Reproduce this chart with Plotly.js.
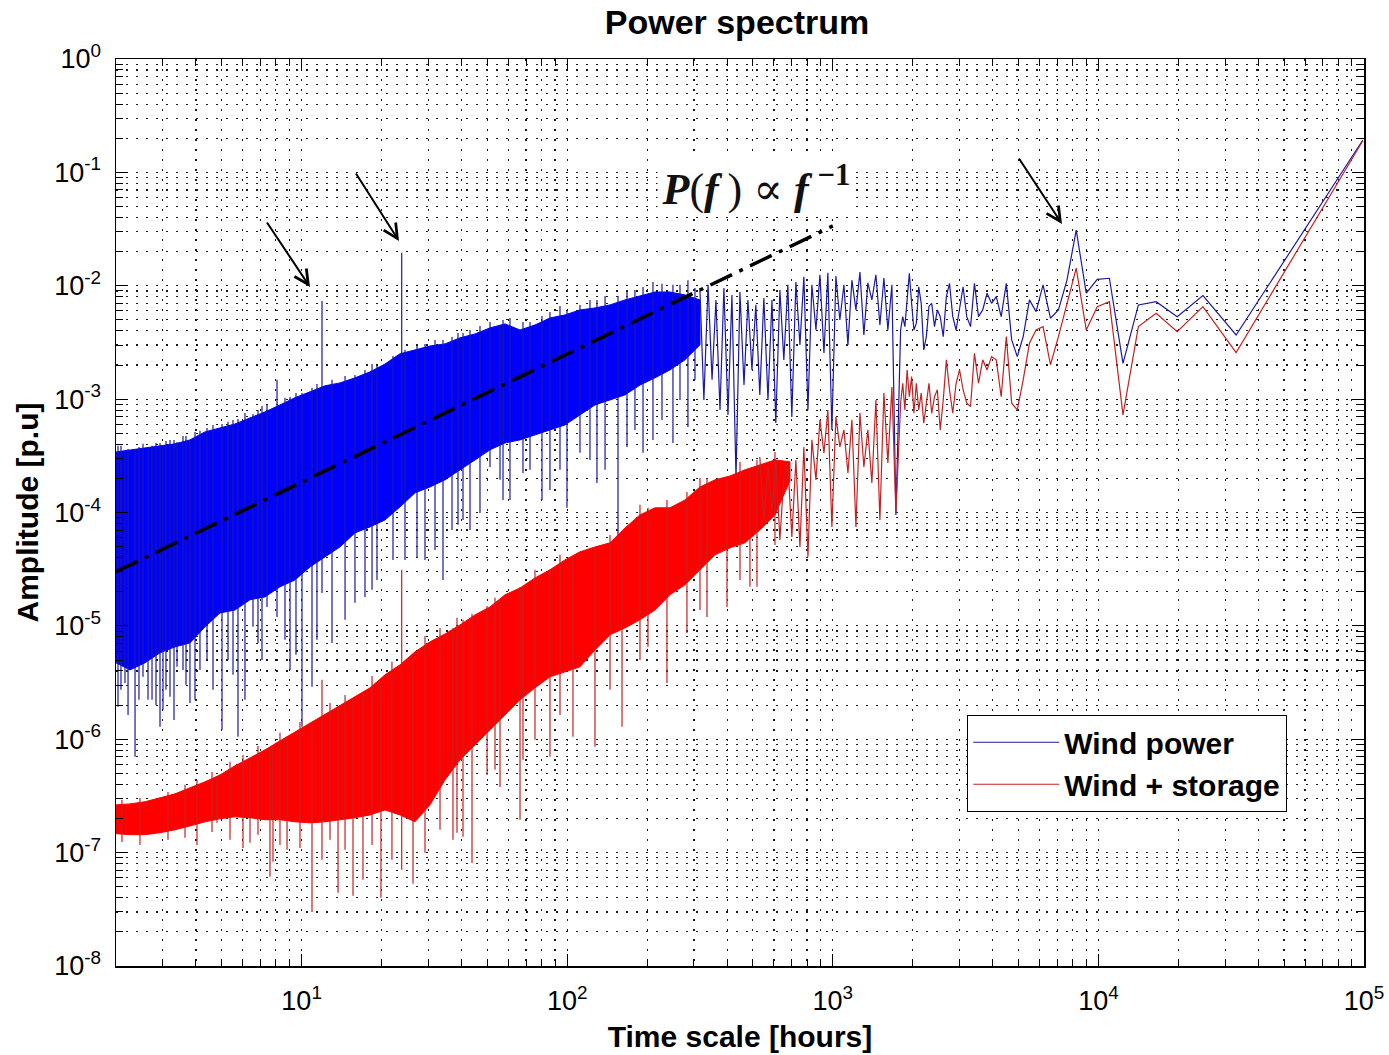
<!DOCTYPE html>
<html>
<head>
<meta charset="utf-8">
<script src="https://cdn.plot.ly/plotly-3.0.1.min.js"></script>
<style>
  html, body { margin: 0; padding: 0; background: #fff; }
  #chart { width: 1389px; height: 1055px; }
</style>
</head>
<body>
<div id="chart"></div>
<script>
// ---------------- DATA ----------------
const xTickVals = [10, 100, 1000, 10000, 100000];
const xTickText = ['10<sup>1</sup>', '10<sup>2</sup>', '10<sup>3</sup>', '10<sup>4</sup>', '10<sup>5</sup>'];
const yTickVals = [1e-8, 1e-7, 1e-6, 1e-5, 1e-4, 1e-3, 1e-2, 1e-1, 1];
const yTickText = ['10<sup>-8</sup>', '10<sup>-7</sup>', '10<sup>-6</sup>', '10<sup>-5</sup>', '10<sup>-4</sup>',
                   '10<sup>-3</sup>', '10<sup>-2</sup>', '10<sup>-1</sup>', '10<sup>0</sup>'];

// Wind power: dense part of the spectrum (upper / lower envelope of the solid band)
const blueBandX = [2.00, 2.258, 2.572, 2.929, 3.336, 3.798, 4.326, 4.927, 5.611, 6.391,
  7.278, 8.289, 9.441, 10.75, 12.24, 13.94, 15.88, 18.09, 20.60, 23.46,
  26.72, 30.43, 34.66, 39.47, 44.96, 51.20, 58.31, 66.41, 75.63, 86.10,
  98.06, 111.7, 127.2, 144.9, 165.0, 187.9, 214.0, 243.7, 277.5, 316.1];
const blueBandTop = [3.42e-4, 3.57e-4, 3.71e-4, 3.87e-4, 4.03e-4, 4.37e-4, 5.14e-4, 5.57e-4, 6.04e-4, 6.83e-4,
  7.71e-4, 8.89e-4, 1.03e-3, 1.16e-3, 1.31e-3, 1.39e-3, 1.54e-3, 1.74e-3, 2.04e-3, 2.51e-3,
  2.72e-3, 2.94e-3, 3.07e-3, 3.47e-3, 3.76e-3, 4.25e-3, 4.61e-3, 4.07e-3, 4.51e-3, 5.20e-3,
  5.53e-3, 6.12e-3, 6.37e-3, 6.78e-3, 7.50e-3, 8.13e-3, 8.81e-3, 8.81e-3, 8.30e-3, 7.50e-3];
const blueBandBottom = [4.72e-6, 4.09e-6, 4.72e-6, 5.78e-6, 6.53e-6, 7.08e-6, 9.80e-6, 1.30e-5, 1.38e-5, 1.70e-5,
  1.80e-5, 2.21e-5, 2.54e-5, 3.31e-5, 4.06e-5, 4.97e-5, 6.61e-5, 7.46e-5, 8.60e-5, 1.12e-4,
  1.49e-4, 1.68e-4, 1.94e-4, 2.38e-4, 2.91e-4, 3.57e-4, 4.11e-4, 4.37e-4, 4.83e-4, 5.35e-4,
  5.92e-4, 7.26e-4, 8.89e-4, 9.84e-4, 1.09e-3, 1.33e-3, 1.54e-3, 1.81e-3, 2.22e-3, 3.01e-3];

// Wind power: individual spikes (high and low value) in the dense part
const blueSpikeX = [2.035, 2.162, 2.359, 2.527, 2.640, 2.733, 2.929, 3.006, 3.194, 3.395,
  3.575, 3.798, 4.142, 4.402, 5.014, 5.282, 5.759, 6.559, 6.850, 7.406,
  8.077, 9.043, 10.03, 10.94, 11.93, 13.01, 15.88, 17.32, 19.22, 22.08,
  23.81, 27.19, 29.14, 34.06, 36.83, 40.51, 43.05, 46.94, 51.20, 55.84,
  57.31, 68.14, 80.35, 86.10, 99.78, 111.7, 129.4, 155.3, 167.9, 192.9,
  210.3, 250.1, 284.8,
  2.088, 2.220, 2.441, 2.829, 3.085, 3.307, 3.669, 3.967, 4.637, 5.515,
  6.119, 7.091, 8.656, 9.522, 11.42, 14.57, 18.41, 24.50, 31.78, 38.79,
  60.87, 72.42, 93.92, 121.8, 138.8, 179.9, 227.4, 265.8, 302.7];
const blueSpikeHi = [3.87e-4, 3.42e-4, 3.64e-4, 4.03e-4, 3.71e-4, 3.87e-4, 4.11e-4, 3.94e-4, 4.37e-4, 4.19e-4,
  4.73e-4, 4.37e-4, 5.25e-4, 5.57e-4, 6.04e-4, 6.30e-4, 6.69e-4, 7.40e-4, 8.03e-4, 8.89e-4,
  1.48e-3, 1.05e-3, 1.13e-3, 1.26e-3, 7.35e-3, 1.48e-3, 1.63e-3, 1.81e-3, 1.96e-3, 2.40e-3,
  1.95e-2, 2.94e-3, 3.07e-3, 3.33e-3, 3.54e-3, 3.84e-3, 4.07e-3, 4.42e-3, 4.80e-3, 4.51e-3,
  4.99e-3, 4.80e-3, 5.42e-3, 5.87e-3, 6.12e-3, 6.78e-3, 7.50e-3, 8.13e-3, 9.18e-3, 9.76e-3,
  1.08e-2, 1.02e-2, 1.12e-2,
  3.87e-4, 3.64e-4, 3.79e-4, 4.11e-4, 4.28e-4, 4.37e-4, 4.73e-4, 5.14e-4, 5.92e-4, 6.56e-4,
  7.56e-4, 8.71e-4, 1.03e-3, 1.13e-3, 1.36e-3, 1.60e-3, 2.04e-3, 2.72e-3, 3.33e-3, 3.84e-3,
  5.20e-3, 4.80e-3, 6.64e-3, 7.50e-3, 8.13e-3, 9.18e-3, 1.04e-2, 1.02e-2, 9.57e-3];
const blueSpikeLo = [1.93e-6, 3.14e-6, 7.0e-7, 3.55e-6, 2.23e-6, 2.23e-6, 1.29e-6, 1.82e-6, 2.37e-6, 4.35e-6,
  4.09e-6, 2.09e-6, 4.09e-6, 5.01e-6, 1.21e-6, 5.01e-6, 1.05e-6, 9.8e-6, 7.08e-6, 1.47e-5,
  1.20e-5, 4.09e-6, 1.29e-6, 2.90e-6, 1.95e-5, 7.08e-6, 1.60e-5, 1.80e-5, 2.54e-5, 3.82e-5,
  1.29e-4, 4.06e-5, 3.82e-5, 2.54e-5, 7.02e-5, 8.60e-5, 7.02e-5, 9.91e-5, 2.52e-4, 1.94e-4,
  1.29e-4, 2.23e-4, 1.29e-4, 1.58e-4, 1.10e-4, 3.36e-4, 1.82e-4, 6.10e-5, 3.79e-4, 3.36e-4,
  4.37e-4, 4.11e-4, 5.69e-4,
  2.73e-6, 1.64e-6, 2.23e-6, 2.01e-6, 2.73e-6, 1.48e-6, 3.02e-6, 2.23e-6, 2.73e-6, 3.70e-6,
  2.23e-6, 5.01e-6, 7.53e-6, 5.55e-6, 7.53e-6, 1.13e-5, 2.08e-5, 3.82e-5, 4.68e-5, 7.78e-5,
  1.29e-4, 2.38e-4, 2.38e-4, 2.91e-4, 2.38e-4, 5.35e-4, 6.56e-4, 9.84e-4, 1.48e-3];

// Wind power: sparse part of the spectrum (line)
const blueLineX = [316, 327, 339, 351, 363, 376, 389, 403, 417, 432,
  447, 463, 479, 496, 513, 531, 550, 570, 590, 610,
  632, 654, 677, 701, 726, 752, 778, 806, 834, 864,
  894, 926, 958, 992, 1027, 1063, 1101, 1140, 1180, 1222,
  1265, 1309, 1355, 1403, 1453, 1504, 1557, 1612, 1669, 1728,
  1800, 1833, 1868, 1904, 1941, 1980, 2020, 2063, 2106, 2152,
  2200, 2250, 2302, 2357, 2415, 2475, 2538, 2605, 2676, 2750,
  2829, 2912, 3000, 3094, 3194, 3300, 3414, 3536, 3667, 3808,
  3960, 4125, 4304, 4500, 4714, 4950, 5210, 5500, 5824, 6188,
  6600, 7071, 7615, 8250, 9000, 9900, 11000, 12375, 14143, 16500,
  19800, 24750, 33000, 49500, 99000];
const blueLineY = [9.18e-3, 9.84e-4, 1.02e-2, 1.48e-3, 7.50e-3, 8.03e-4, 9.57e-3, 7.26e-4, 8.30e-3, 2.02e-4,
  8.81e-3, 1.33e-3, 7.50e-3, 1.81e-3, 6.78e-3, 1.09e-3, 7.80e-3, 9.84e-4, 7.50e-3, 6.17e-4,
  9.18e-3, 2.22e-3, 1.02e-2, 6.97e-4, 1.08e-2, 3.01e-3, 1.20e-2, 8.03e-4, 1.02e-2, 4.07e-3,
  1.25e-2, 2.55e-3, 1.30e-2, 5.35e-4, 1.22e-2, 4.99e-3, 1.02e-2, 3.01e-3, 1.12e-2, 6.12e-3,
  1.32e-2, 3.68e-3, 1.06e-2, 7.50e-3, 1.25e-2, 4.51e-3, 1.17e-2, 4.07e-3, 1.02e-2, 9.52e-5,
  4.07e-3, 5.34e-3, 4.36e-3, 7.0e-3, 1.29e-2, 7.0e-3, 4.07e-3, 4.68e-3, 9.8e-3, 7.0e-3,
  2.72e-3, 3.56e-3, 6.6e-3, 7.0e-3, 4.36e-3, 6.12e-3, 5.34e-3, 3.56e-3, 8.02e-3, 1.05e-2,
  5.34e-3, 4.07e-3, 6.12e-3, 9.8e-3, 5.34e-3, 4.36e-3, 1.05e-2, 5.34e-3, 6.12e-3, 8.59e-3,
  7.0e-3, 8.02e-3, 5.34e-3, 1.05e-2, 3.33e-3, 2.37e-3, 3.56e-3, 7.5e-3, 5.91e-3, 1.016e-2,
  5.17e-3, 6.12e-3, 1.12e-2, 3.10e-2, 8.59e-3, 1.14e-2, 1.164e-2, 2.07e-3, 6.77e-3, 7.24e-3,
  5.34e-3, 8.18e-3, 3.68e-3, 1.59e-2, 0.193];

// Wind + storage: dense part (upper / lower envelope)
const redBandX = [2.00, 2.258, 2.572, 2.929, 3.336, 3.798, 4.326, 4.927, 5.611, 6.391,
  7.278, 8.289, 9.441, 10.75, 12.24, 13.94, 15.88, 18.09, 20.60, 23.46,
  26.72, 30.43, 34.66, 39.47, 44.96, 51.20, 58.31, 66.41, 75.63, 86.10,
  98.06, 111.7, 127.2, 144.9, 165.0, 187.9, 214.0, 243.7, 277.5, 316.1,
  360.0, 410.0, 466.9, 531.7, 605.6, 689.7];
const redBandTop = [2.64e-7, 2.69e-7, 2.81e-7, 3.04e-7, 3.30e-7, 3.73e-7, 4.21e-7, 4.85e-7, 5.83e-7, 6.85e-7,
  8.06e-7, 9.68e-7, 1.16e-6, 1.40e-6, 1.67e-6, 2.01e-6, 2.37e-6, 2.84e-6, 3.70e-6, 4.53e-6,
  5.90e-6, 7.23e-6, 8.49e-6, 1.02e-5, 1.25e-5, 1.47e-5, 1.88e-5, 2.16e-5, 2.65e-5, 3.12e-5,
  3.82e-5, 4.50e-5, 4.97e-5, 5.40e-5, 7.31e-5, 9.52e-5, 1.10e-4, 1.10e-4, 1.29e-4, 1.68e-4,
  1.94e-4, 2.10e-4, 2.38e-4, 2.63e-4, 2.91e-4, 2.80e-4];
const redBandBottom = [1.47e-7, 1.44e-7, 1.44e-7, 1.50e-7, 1.59e-7, 1.72e-7, 1.87e-7, 1.99e-7, 2.07e-7, 2.03e-7,
  1.95e-7, 1.95e-7, 1.87e-7, 1.83e-7, 1.87e-7, 1.95e-7, 2.03e-7, 2.15e-7, 2.38e-7, 2.15e-7,
  1.87e-7, 2.64e-7, 4.38e-7, 6.58e-7, 8.93e-7, 1.21e-6, 1.64e-6, 2.23e-6, 2.84e-6, 3.55e-6,
  3.93e-6, 4.35e-6, 6.14e-6, 8.33e-6, 9.6e-6, 1.13e-5, 1.38e-5, 1.88e-5, 2.30e-5, 3.12e-5,
  4.23e-5, 4.88e-5, 5.40e-5, 7.02e-5, 9.52e-5, 1.90e-4];

// Wind + storage: individual spikes in the dense part
const redSpikeX = [4.80, 6.391, 7.60, 7.80, 8.81, 10.94, 11.93, 13.71, 15.61, 17.02,
  19.89, 23.81, 26.26, 37.14, 40.51, 43.8, 49.9, 55.84, 66.41, 68.14,
  86.10, 105.1, 127.2, 160.8, 201.4, 237.4, 282.3, 335.9, 399.5, 487.5, 518.1,
  2.106, 2.462, 3.139, 3.638, 4.036, 4.597, 5.374, 6.014, 6.849, 8.288,
  9.858, 12.79, 14.57, 18.41, 21.88, 29.14, 33.19, 38.45, 53.46, 75.61,
  93.92, 144.9, 187.9, 316.1, 447.2, 605.6];
const redSpikeHi = [4.75e-7, 6.85e-7, 8.4e-7, 8.6e-7, 1.05e-6, 1.42e-6, 3.34e-6, 1.93e-6, 2.29e-6, 2.57e-6,
  3.21e-6, 3.12e-5, 5.22e-6, 9.6e-6, 1.13e-5, 1.28e-5, 1.50e-5, 1.70e-5, 2.2e-5, 2.2e-5,
  3.12e-5, 3.98e-5, 4.88e-5, 6.34e-5, 1.10e-4, 1.29e-4, 1.52e-4, 2.02e-4, 1.94e-4, 2.47e-4, 2.91e-4,
  2.92e-7, 3.04e-7, 3.43e-7, 3.96e-7, 4.38e-7, 5.15e-7, 6.32e-7, 7.28e-7, 8.74e-7, 1.14e-6,
  1.42e-6, 2.09e-6, 2.46e-6, 3.62e-6, 4.82e-6, 8.16e-6, 9.6e-6, 1.18e-5, 1.77e-5, 3.12e-5,
  4.23e-5, 6.34e-5, 1.17e-4, 2.02e-4, 2.79e-4, 3.42e-4];
const redSpikeLo = [1.83e-7, 1.22e-7, 6.12e-8, 8.3e-8, 1.06e-7, 3.0e-8, 8.64e-8, 4.42e-8, 4.16e-8, 5.75e-8,
  3.99e-8, 7.05e-8, 5.31e-8, 1.30e-7, 1.38e-7, 8.1e-8, 4.85e-7, 3.80e-7, 1.95e-7, 6.58e-7,
  7.0e-7, 1.05e-6, 8.57e-7, 1.29e-6, 6.53e-6, 3.14e-6, 8.67e-6, 1.20e-5, 1.47e-5, 2.21e-5, 2.21e-5,
  1.24e-7, 1.17e-7, 1.30e-7, 1.35e-7, 1.17e-7, 1.52e-7, 1.30e-7, 1.10e-7, 1.44e-7, 1.17e-7,
  1.10e-7, 1.30e-7, 1.06e-7, 1.17e-7, 8.64e-8, 9.96e-8, 1.59e-7, 1.50e-7, 5.37e-7, 9.88e-7,
  1.64e-6, 2.73e-6, 5.01e-6, 1.38e-5, 2.54e-5, 5.18e-5];

// Wind + storage: sparse part (line)
const redLineX = [531, 550, 570, 590, 610, 632, 654, 677, 701, 726,
  752, 778, 806, 834, 864, 894, 926, 958, 992, 1027,
  1063, 1101, 1140, 1180, 1222, 1265, 1309, 1355, 1403, 1453,
  1504, 1557, 1612, 1669, 1728,
  1800, 1833, 1868, 1904, 1941, 1980, 2020, 2063, 2106, 2152,
  2200, 2250, 2302, 2357, 2415, 2475, 2538, 2605, 2676, 2750,
  2829, 2912, 3000, 3094, 3194, 3300, 3414, 3536, 3667, 3808,
  3960, 4125, 4304, 4500, 4714, 4950, 5210, 5500, 5824, 6188,
  6600, 7071, 7615, 8250, 9000, 9900, 11000, 12375, 14143, 16500,
  19800, 24750, 33000, 49500, 99000];
const redLineY = [3.09e-4, 8.60e-5, 2.52e-4, 1.05e-4, 2.91e-4, 5.73e-5, 2.06e-4, 2.74e-4, 6.09e-5, 2.91e-4,
  4.97e-5, 3.79e-4, 4.06e-5, 4.37e-4, 1.94e-4, 6.56e-4, 3.36e-4, 8.03e-4, 7.46e-5, 6.97e-4,
  3.79e-4, 5.35e-4, 2.23e-4, 6.56e-4, 7.46e-5, 7.56e-4, 2.52e-4, 5.35e-4, 1.82e-4, 9.84e-4,
  8.60e-5, 1.13e-3, 2.74e-4, 1.28e-3, 9.91e-5,
  9.2e-4, 1.38e-3, 8.03e-4, 1.81e-3, 1.05e-3, 1.58e-3, 7.5e-4, 1.38e-3, 8.03e-4, 1.13e-3,
  6.13e-4, 9.2e-4, 1.38e-3, 7.5e-4, 1.05e-3, 1.21e-3, 5.35e-4, 9.84e-4, 2.22e-3, 1.21e-3,
  7.5e-4, 1.38e-3, 1.81e-3, 1.21e-3, 9.2e-4, 8.6e-4, 2.54e-3, 1.38e-3, 2.22e-3, 1.81e-3,
  2.37e-3, 2.22e-3, 1.05e-3, 3.56e-3, 9.2e-4, 8.03e-4, 1.48e-3, 3.11e-3, 4.07e-3, 4.36e-3,
  2.01e-3, 3.56e-3, 7.0e-3, 1.43e-2, 4.07e-3, 6.54e-3, 7.24e-3, 7.26e-4, 4.36e-3, 5.72e-3,
  3.94e-3, 6.54e-3, 2.57e-3, 1.25e-2, 0.19];

// Reference slope P(f) ~ f^-1 (dash-dot line)
const slopeX = [2, 1000];
const slopeY = [3.0e-5, 3.37e-2];

// ---------------- CHART ----------------
const BLUE_FILL = '#0000ff', BLUE_LINE = '#1a1aa4';
const RED_FILL = '#ff0000', RED_LINE = '#c42222';

function bandTrace(xs, top, bot, color) {
  return {
    x: xs.concat(xs.slice().reverse()),
    y: top.concat(bot.slice().reverse()),
    mode: 'lines', fill: 'toself', fillcolor: color,
    line: {color: color, width: 1}, showlegend: false, hoverinfo: 'skip'
  };
}
function spikeTrace(xs, hi, lo, color) {
  const x = [], y = [];
  for (let i = 0; i < xs.length; i++) {
    x.push(xs[i], xs[i], null);
    y.push(hi[i], lo[i], null);
  }
  return {x: x, y: y, mode: 'lines', line: {color: color, width: 1.2},
          showlegend: false, hoverinfo: 'skip', connectgaps: false};
}
function minorVals(lo, hi) {
  const v = [];
  for (let e = lo; e < hi; e++) {
    for (let m = 2; m <= 9; m++) v.push(m * Math.pow(10, e));
  }
  return v;
}

const traces = [
  bandTrace(blueBandX, blueBandTop, blueBandBottom, BLUE_FILL),
  spikeTrace(blueSpikeX, blueSpikeHi, blueSpikeLo, BLUE_LINE),
  {x: blueLineX, y: blueLineY, mode: 'lines', name: 'Wind power',
   line: {color: BLUE_LINE, width: 1.2}, hoverinfo: 'skip'},
  bandTrace(redBandX, redBandTop, redBandBottom, RED_FILL),
  spikeTrace(redSpikeX, redSpikeHi, redSpikeLo, RED_LINE),
  {x: redLineX, y: redLineY, mode: 'lines', name: 'Wind + storage',
   line: {color: RED_LINE, width: 1.2}, hoverinfo: 'skip'},
  {x: slopeX, y: slopeY, mode: 'lines', showlegend: false, hoverinfo: 'skip',
   line: {color: '#000', width: 3.5, dash: '24px,8px,4px,8px'}}
];

const FONT = 'Liberation Sans, Arial, Helvetica, sans-serif';
const GRIDC = '#1a1a1a', GRIDW = 1.2, GRIDD = '2px,8px';

const axisCommon = {
  type: 'log', tickmode: 'array',
  ticks: 'inside', ticklen: 12, tickwidth: 1, tickcolor: '#000',
  showline: true, linecolor: '#000', linewidth: 1.5, mirror: 'allticks',
  showgrid: true, gridcolor: GRIDC, gridwidth: GRIDW, griddash: GRIDD,
  zeroline: false,
  tickfont: {family: FONT, size: 27, color: '#000'}
};
const minorCommon = {tickmode: 'array', ticks: 'inside', ticklen: 7, tickwidth: 1, tickcolor: '#000',
                     showgrid: true, gridcolor: GRIDC, gridwidth: GRIDW, griddash: GRIDD};

const layout = {
  width: 1389, height: 1055,
  margin: {l: 116, r: 25, t: 59, b: 89},
  paper_bgcolor: '#fff', plot_bgcolor: '#fff',
  title: {text: 'Power spectrum', x: 0.4976, xref: 'paper', xanchor: 'center',
          y: 0.979, yref: 'container', yanchor: 'middle',
          font: {family: FONT, size: 34, weight: 'bold', color: '#000'}},
  xaxis: Object.assign({}, axisCommon, {
    range: [Math.log10(2), 5],
    tickvals: xTickVals, ticktext: xTickText,
    ticklabelstandoff: 10,
    minor: Object.assign({}, minorCommon, {tickvals: minorVals(0, 5).filter(v => v >= 2)}),
    title: {text: 'Time scale [hours]', standoff: 11,
            font: {family: FONT, size: 30, weight: 'bold', color: '#000'}}
  }),
  yaxis: Object.assign({}, axisCommon, {
    range: [-8, 0],
    tickvals: yTickVals, ticktext: yTickText,
    ticklabelstandoff: 8,
    minor: Object.assign({}, minorCommon, {tickvals: minorVals(-8, 0)}),
    title: {text: 'Amplitude [p.u]', standoff: 7,
            font: {family: FONT, size: 30, weight: 'bold', color: '#000'}}
  }),
  legend: {x: 0.6819, y: 0.2767, xanchor: 'left', yanchor: 'top',
           bgcolor: '#fff', bordercolor: '#000', borderwidth: 1.2,
           font: {family: FONT, size: 30, weight: 'bold', color: '#000'},
           itemwidth: 86, tracegroupgap: 0},
  annotations: [
    {xref: 'paper', yref: 'paper', x: 0.5128, y: 0.860, xanchor: 'center', yanchor: 'middle',
     showarrow: false, bgcolor: '#fff', width: 194, height: 54,
     text: '<b><i>P</i></b>(<b><i>f</i></b>\u2009) ∝ <b><i>f</i></b>\u2009<sup><b>−1</b></sup>',
     font: {family: 'Liberation Serif, DejaVu Serif, serif', size: 44, color: '#111'}},
    {xref: 'paper', yref: 'paper', x: 0.15545, y: 0.74862, ax: -44, ay: -66, text: '',
     showarrow: true, arrowhead: 5, arrowsize: 1.4, arrowwidth: 2, arrowcolor: '#000', standoff: 0},
    {xref: 'paper', yref: 'paper', x: 0.22676, y: 0.79934, ax: -44, ay: -69, text: '',
     showarrow: true, arrowhead: 5, arrowsize: 1.4, arrowwidth: 2, arrowcolor: '#000', standoff: 0},
    {xref: 'paper', yref: 'paper', x: 0.75801, y: 0.81808, ax: -44, ay: -67, text: '',
     showarrow: true, arrowhead: 5, arrowsize: 1.4, arrowwidth: 2, arrowcolor: '#000', standoff: 0}
  ]
};

Plotly.newPlot('chart', traces, layout, {displayModeBar: false, staticPlot: true});
</script>
</body>
</html>
